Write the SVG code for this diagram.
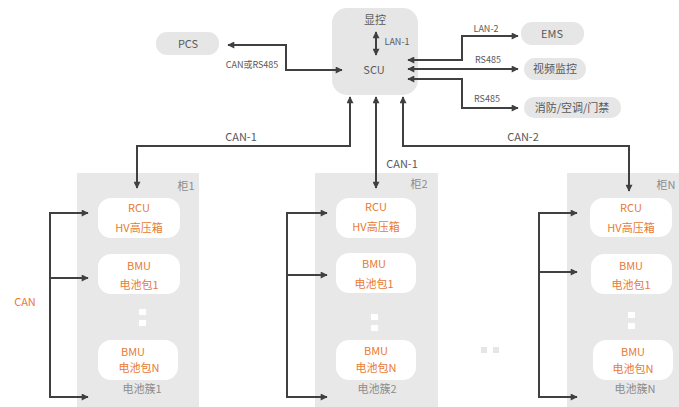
<svg xmlns="http://www.w3.org/2000/svg" width="679" height="407" viewBox="0 0 679 407">
<style>
text{font-family:"Noto Sans CJK SC","Noto Sans",sans-serif;}
.g{fill:#e6e6e6;}
.cab{fill:#e8e8e8;}
.in{fill:#ffffff;}
.t{fill:#595959;font-size:11px;text-anchor:middle;}
.s{fill:#595959;font-size:9px;text-anchor:middle;}
.o{fill:#e87a35;font-size:11px;text-anchor:middle;}
.c{fill:#8c8c8c;font-size:11px;text-anchor:middle;}
.ln{fill:none;stroke:#404040;stroke-width:2;}
</style>
<defs>
<marker id="a" viewBox="0 0 10 10" refX="9" refY="5" markerWidth="8" markerHeight="7" markerUnits="userSpaceOnUse" orient="auto-start-reverse">
<path d="M0,0 L10,5 L0,10 z" fill="#404040"/>
</marker>
</defs>
<rect width="679" height="407" fill="#ffffff"/>

<g id="scu"><rect class="g" x="332" y="8" width="86" height="87" rx="15"/><text class="t" x="375" y="24">显控</text><text class="t" x="374" y="74" font-size="12">SCU</text></g>
<g id="pcs"><rect class="g" x="156" y="32" width="63" height="23" rx="11"/><text class="t" x="188" y="48">PCS</text></g>
<g id="ems"><rect class="g" x="521" y="22" width="63" height="23" rx="11"/><text class="t" x="552" y="38">EMS</text></g>
<g id="video"><rect class="g" x="524" y="58" width="62" height="22" rx="11"/><text class="t" x="555" y="73">视频监控</text></g>
<g id="fire"><rect class="g" x="524" y="97" width="97" height="21" rx="10"/><text class="t" x="572" y="112">消防/空调/门禁</text></g>

<g id="cabinet1">
<rect class="cab" x="77" y="173" width="122" height="234"/>
<text class="c" x="186" y="190">柜1</text>
<rect class="in" x="98" y="198" width="82" height="40" rx="13"/>
<text class="o" x="139" y="212">RCU</text><text class="o" x="139" y="232">HV高压箱</text>
<rect class="in" x="98" y="254" width="82" height="40" rx="13"/>
<text class="o" x="139" y="270">BMU</text><text class="o" x="139" y="289">电池包1</text>
<rect class="in" x="139" y="309" width="7" height="6"/><rect class="in" x="139" y="320" width="7" height="6"/>
<rect class="in" x="98" y="340" width="80" height="40" rx="13"/>
<text class="o" x="133" y="356">BMU</text><text class="o" x="139" y="372">电池包N</text>
<text class="c" x="142" y="393">电池簇1</text>
</g>

<g id="cabinet2">
<rect class="cab" x="315" y="173" width="123" height="234"/>
<text class="c" x="419" y="188">柜2</text>
<rect class="in" x="336" y="198" width="80" height="40" rx="13"/>
<text class="o" x="376" y="211">RCU</text><text class="o" x="376" y="231">HV高压箱</text>
<rect class="in" x="336" y="253" width="80" height="40" rx="13"/>
<text class="o" x="374" y="268">BMU</text><text class="o" x="374" y="288">电池包1</text>
<rect class="in" x="371" y="314" width="7" height="6"/><rect class="in" x="371" y="325" width="7" height="6"/>
<rect class="in" x="336" y="340" width="80" height="40" rx="13"/>
<text class="o" x="376" y="355">BMU</text><text class="o" x="376" y="372">电池包N</text>
<text class="c" x="377" y="393">电池簇2</text>
</g>

<g id="cabinetN">
<rect class="cab" x="567" y="173" width="122" height="234"/>
<text class="c" x="666" y="189">柜N</text>
<rect class="in" x="590" y="198" width="82" height="39" rx="13"/>
<text class="o" x="631" y="212">RCU</text><text class="o" x="631" y="232">HV高压箱</text>
<rect class="in" x="591" y="254" width="81" height="40" rx="13"/>
<text class="o" x="631" y="270">BMU</text><text class="o" x="631" y="289">电池包1</text>
<rect class="in" x="628" y="312" width="7" height="6"/><rect class="in" x="628" y="323" width="7" height="6"/>
<rect class="in" x="593" y="340" width="80" height="40" rx="13"/>
<text class="o" x="633" y="356">BMU</text><text class="o" x="633" y="373">电池包N</text>
<text class="c" x="635" y="393">电池簇N</text>
</g>

<g id="ellipsis"><rect class="g" x="481" y="347" width="6" height="6"/><rect class="g" x="493" y="347" width="6" height="6"/></g>

<g id="connectors">
<path class="ln" d="M228,45 H286 V70 H342" marker-start="url(#a)" marker-end="url(#a)"/>
<path class="ln" d="M376,32 V55" marker-start="url(#a)" marker-end="url(#a)"/>
<path class="ln" d="M408,60 H462 V36 H518" marker-start="url(#a)" marker-end="url(#a)"/>
<path class="ln" d="M408,69 H518" marker-start="url(#a)" marker-end="url(#a)"/>
<path class="ln" d="M408,79 H462 V108 H518" marker-start="url(#a)" marker-end="url(#a)"/>
<path class="ln" d="M350,97 V146 H137 V188" marker-start="url(#a)" marker-end="url(#a)"/>
<path class="ln" d="M376,97 V188" marker-start="url(#a)" marker-end="url(#a)"/>
<path class="ln" d="M403,97 V146 H629 V191" marker-start="url(#a)" marker-end="url(#a)"/>
<path class="ln" d="M88,213 H50 V397 H88" marker-start="url(#a)" marker-end="url(#a)"/>
<path class="ln" d="M50,278 H88" marker-end="url(#a)"/>
<path class="ln" d="M327,213 H287 V397 H327" marker-start="url(#a)" marker-end="url(#a)"/>
<path class="ln" d="M287,275 H327" marker-end="url(#a)"/>
<path class="ln" d="M577,213 H539 V397 H577" marker-start="url(#a)" marker-end="url(#a)"/>
<path class="ln" d="M539,272 H577" marker-end="url(#a)"/>
</g>

<g id="labels">
<text class="s" x="397" y="45">LAN-1</text>
<text class="s" x="252" y="68">CAN或RS485</text>
<text class="s" x="486" y="32">LAN-2</text>
<text class="s" x="488" y="63">RS485</text>
<text class="s" x="487" y="102">RS485</text>
<text class="t" x="241" y="141">CAN-1</text>
<text class="t" x="402" y="168">CAN-1</text>
<text class="t" x="523" y="141">CAN-2</text>
<text class="o" x="25" y="306">CAN</text>
</g>
</svg>
